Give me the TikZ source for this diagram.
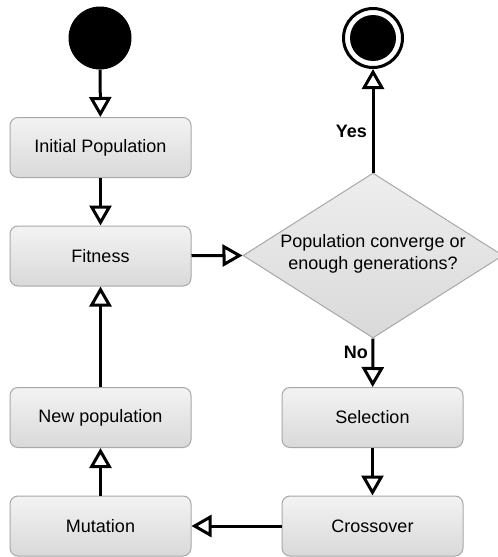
\documentclass[tikz,border=0pt]{standalone}
\usepackage{fontspec}
\setmainfont{Liberation Sans}
\usetikzlibrary{shapes.geometric,arrows.meta}
\definecolor{boxtop}{HTML}{F3F3F3}
\definecolor{boxbot}{HTML}{D9D9D9}
\definecolor{boxline}{HTML}{A8A8A8}
\tikzset{
  stepbox/.style={draw=boxline, line width=1pt, rounded corners=8pt,
    top color=boxtop, bottom color=boxbot, minimum width=181pt, minimum height=60pt,
    inner sep=0pt, font=\fontsize{18}{21}\selectfont},
  flow/.style={line width=3pt, -{Triangle[open, length=20pt, width=22pt]}},
  lbl/.style={font=\fontsize{18}{21}\selectfont\bfseries, inner sep=0pt}
}
\begin{document}
\begin{tikzpicture}[x=1pt,y=-1pt]
\useasboundingbox (0,0) rectangle (498,557);
\clip (0,0) rectangle (498,557);
\node[circle, fill=black, minimum size=63pt, inner sep=0pt] (start) at (100,38) {};
\node[circle, draw=black, fill=white, line width=3pt, minimum size=59pt, inner sep=0pt] (end) at (373,38) {};
\fill[black] (end.center) circle (23pt);
\node[stepbox] (init) at (100.5,147.5) {Initial Population};
\node[stepbox] (fit) at (100.5,256) {Fitness};
\node[stepbox] (newpop) at (100.5,417.5) {New population};
\node[stepbox] (mut) at (100.5,526) {Mutation};
\node[stepbox] (sel) at (372.5,417.5) {Selection};
\node[stepbox] (cross) at (372.5,526) {Crossover};
\node[diamond, draw=boxline, line width=1pt, top color=boxtop!80!boxbot, bottom color=boxbot,
  minimum width=260pt, minimum height=165pt, inner sep=0pt] (dec) at (373,255.5) {};
\node[align=center, font=\fontsize{18}{22}\selectfont] (dectext) at (373,254) {Population converge or\\enough generations?};
\draw[flow] (start) -- (init);
\draw[flow] (init) -- (fit);
\draw[flow] (fit) -- (dec.west);
\draw[flow] (dec.north) -- (end);
\draw[flow] (dec.south) -- (sel);
\draw[flow] (sel) -- (cross);
\draw[flow] (cross) -- (mut);
\draw[flow] (mut) -- (newpop);
\draw[flow] (newpop) -- (fit);
\node[lbl, anchor=east] (yes) at (367,131) {Yes};
\node[lbl, anchor=east] (no) at (368,352) {No};
\end{tikzpicture}
\end{document}
